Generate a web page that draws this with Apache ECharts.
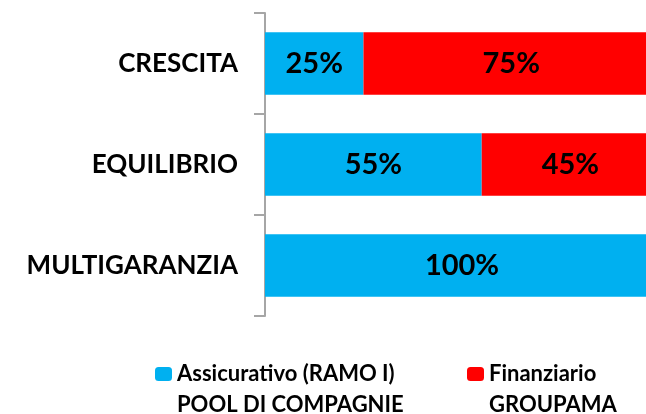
<!DOCTYPE html>
<html>
<head>
<meta charset="utf-8">
<script src="https://cdn.jsdelivr.net/npm/echarts@6/dist/echarts.min.js"></script>
<style>
  html, body { margin: 0; padding: 0; background: #fff; }
  #chart { width: 646px; height: 414px; }
</style>
</head>
<body>
<div id="chart"></div>
<script>
// categories, top to bottom
const categories = ['CRESCITA', 'EQUILIBRIO', 'MULTIGARANZIA'];
const seriesNames = ['Assicurativo (RAMO I)', 'Finanziario'];
const subLabels = ['POOL DI COMPAGNIE', 'GROUPAMA'];
const assicurativo = [25, 55, 100];
const finanziario = [75, 45, 0];

const FONT = 'Lato';

const chart = echarts.init(document.getElementById('chart'));

function pctLabel(p) {
  return p.value ? p.value + '%' : '';
}

// legend text; first item has fixed width so both rows line up
const legendText = {
  rich: {
    a: {
      fontFamily: FONT,
      fontWeight: 'bold',
      fontSize: 22,
      lineHeight: 22,
      color: '#000',
      width: 280,
      backgroundColor: '#fff'
    },
    b: {
      fontFamily: FONT,
      fontWeight: 'bold',
      fontSize: 22,
      lineHeight: 22,
      color: '#000'
    }
  }
};

function wrap(i, txt) {
  return (i === 0 ? '{a|' : '{b|') + txt + '}';
}

chart.setOption({
  animation: false,
  grid: {
    left: 265,
    top: 13,
    width: 394,
    height: 303,
    outerBoundsMode: 'none'
  },
  legend: [
    {
      left: 155,
      top: 363,
      padding: 0,
      itemWidth: 17,
      itemHeight: 14,
      itemGap: 10,
      data: seriesNames,
      textStyle: legendText,
      formatter: function (name) {
        return wrap(seriesNames.indexOf(name), name);
      }
    },
    {
      left: 155,
      top: 394,
      padding: 0,
      itemWidth: 17,
      itemHeight: 14,
      itemGap: 10,
      data: seriesNames,
      itemStyle: { opacity: 0 },
      textStyle: legendText,
      formatter: function (name) {
        const i = seriesNames.indexOf(name);
        return wrap(i, subLabels[i]);
      }
    }
  ],
  xAxis: {
    type: 'value',
    min: 0,
    max: 100,
    show: false
  },
  yAxis: {
    type: 'category',
    inverse: true,
    data: categories,
    axisLine: { show: true, lineStyle: { color: '#A6A6A6', width: 2 } },
    axisTick: { show: true, length: 11, lineStyle: { color: '#A6A6A6', width: 2 } },
    axisLabel: {
      margin: 27,
      fontFamily: FONT,
      fontWeight: 'bold',
      fontSize: 26,
      color: '#000'
    },
    splitLine: { show: false }
  },
  series: [
    {
      name: seriesNames[0],
      type: 'bar',
      stack: 'tot',
      barWidth: '62%',
      data: assicurativo,
      itemStyle: { color: '#00B0F0' },
      label: {
        show: true,
        position: 'inside',
        formatter: pctLabel,
        fontFamily: FONT,
        fontWeight: 'bold',
        fontSize: 29,
        color: '#000'
      }
    },
    {
      name: seriesNames[1],
      type: 'bar',
      stack: 'tot',
      data: finanziario,
      itemStyle: { color: '#FF0000' },
      label: {
        show: true,
        position: 'inside',
        formatter: pctLabel,
        fontFamily: FONT,
        fontWeight: 'bold',
        fontSize: 29,
        color: '#000'
      }
    }
  ]
});
</script>
</body>
</html>
